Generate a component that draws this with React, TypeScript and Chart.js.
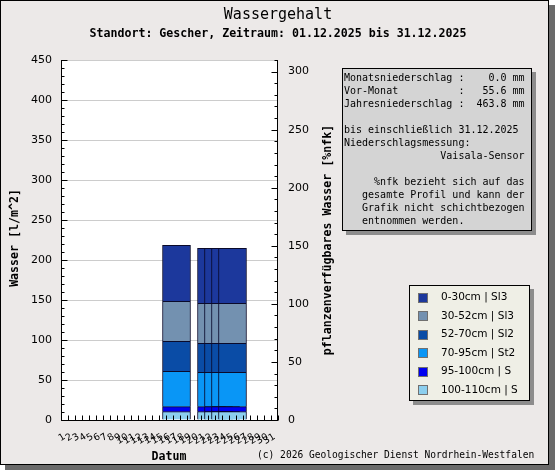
import React, { useEffect, useRef } from 'react';
import { Chart, registerables } from 'chart.js';

Chart.register(...registerables);

// ---- data ----
const dayLabels = ['1', '2', '3', '4', '5', '6', '7', '8', '9', '10', '11', '12', '13', '14', '15', '16',
  '17', '18', '19', '20', '21', '22', '23', '24', '25', '26', '27', '28', '29', '30', '31'];
const barDays = ['17', '22', '23', '24', '25'];
const layer0to30 = [70.0, 68.8, 68.8, 68.8, 68.8];
const layer30to52 = [50.0, 50.0, 50.0, 50.0, 50.0];
const layer52to70 = [37.5, 36.2, 36.2, 36.2, 36.2];
const layer70to95 = [44.1, 42.9, 42.9, 42.9, 42.9];
const layer95to100 = [6.3, 6.3, 6.3, 6.3, 6.3];
const layer100to110 = [10.4, 10.4, 10.4, 10.4, 10.4];
const seriesNames = ['0-30cm | Sl3', '30-52cm | Sl3', '52-70cm | Sl2', '70-95cm | St2', '95-100cm | S', '100-110cm | S'];
const seriesColors = ['#1c389c', '#7391b0', '#0a4ca6', '#0996f6', '#0000f0', '#8ccfee'];
const leftMax = 450;
const leftStep = 50;
const rightMax = 310;
const rightStep = 50;

const titleText = 'Wassergehalt';
const subtitleText = 'Standort: Gescher, Zeitraum: 01.12.2025 bis 31.12.2025';
const leftAxisTitle = 'Wasser [l/m^2]';
const rightAxisTitle = 'pflanzenverfügbares Wasser [%nfk]';
const xAxisTitle = 'Datum';
const copyrightText = '(c) 2026 Geologischer Dienst Nordrhein-Westfalen';
const infoLines = [
  'Monatsniederschlag :    0.0 mm',
  'Vor-Monat          :   55.6 mm',
  'Jahresniederschlag :  463.8 mm',
  '',
  'bis einschließlich 31.12.2025',
  'Niederschlagsmessung:',
  '                Vaisala-Sensor',
  '',
  '     %nfk bezieht sich auf das',
  '   gesamte Profil und kann der',
  '   Grafik nicht schichtbezogen',
  '   entnommen werden.',
];

const MONO = '"DejaVu Sans Mono", monospace';
const SANS = '"DejaVu Sans", sans-serif';

function fullSeries(vals: number[]) {
  return dayLabels.map((d) => {
    const i = barDays.indexOf(d);
    return i >= 0 ? vals[i] : null;
  });
}

const decorPlugin = {
  id: 'decor',
  beforeDraw(chart: any) {
    const ctx = chart.ctx;
    const ca = chart.chartArea;
    ctx.save();
    ctx.fillStyle = '#ffffff';
    ctx.fillRect(0, 0, 555, 470);
    // frame shadow
    ctx.fillStyle = '#6a6a6a';
    ctx.fillRect(549, 5, 6, 465);
    ctx.fillRect(5, 465, 550, 5);
    // frame
    ctx.fillStyle = '#ece9e8';
    ctx.fillRect(0, 0, 549, 465);
    ctx.strokeStyle = '#000';
    ctx.lineWidth = 1;
    ctx.strokeRect(0.5, 0.5, 548, 464);
    // plot area
    ctx.fillStyle = '#ffffff';
    ctx.fillRect(ca.left, ca.top, ca.right - ca.left, ca.bottom - ca.top);
    ctx.restore();
  },
  afterDatasetsDraw(chart: any) {
    const ctx = chart.ctx;
    const ca = chart.chartArea;
    const ys = chart.scales.y;
    const y2 = chart.scales.y2;
    const xs = chart.scales.x;
    ctx.save();
    ctx.strokeStyle = '#000';
    ctx.lineWidth = 1;
    const L = Math.round(ca.left) + 0.5;
    const R = Math.round(ca.right) - 0.5;
    const B = Math.round(ca.bottom) + 0.5;
    ctx.beginPath();
    // axis lines
    ctx.moveTo(L, ca.top);
    ctx.lineTo(L, B);
    ctx.lineTo(R + 0.5, B);
    ctx.moveTo(R, ca.top);
    ctx.lineTo(R, B);
    // left ticks
    for (let v = 0; v <= leftMax; v += 10) {
      const y = Math.round(ys.getPixelForValue(v)) + 0.5;
      const len = v % leftStep === 0 ? 6 : 3;
      ctx.moveTo(L, y);
      ctx.lineTo(L + len, y);
    }
    // right ticks
    for (let v = 0; v <= rightMax; v += 10) {
      const y = Math.round(y2.getPixelForValue(v)) + 0.5;
      const len = v % rightStep === 0 ? 6 : 3;
      ctx.moveTo(R, y);
      ctx.lineTo(R - len, y);
    }
    // bottom ticks at category boundaries
    const step = xs.getPixelForValue(1) - xs.getPixelForValue(0);
    const x0 = xs.getPixelForValue(0) - step / 2;
    for (let i = 0; i <= dayLabels.length; i++) {
      const x = Math.round(x0 + i * step) + 0.5;
      ctx.moveTo(x, B);
      ctx.lineTo(x, B - 5);
    }
    ctx.stroke();
    ctx.restore();
  },
  afterDraw(chart: any) {
    const ctx = chart.ctx;
    ctx.save();
    ctx.fillStyle = '#000';
    ctx.textBaseline = 'middle';
    // titles
    ctx.textAlign = 'center';
    ctx.font = `15px ${MONO}`;
    ctx.fillText(titleText, 278, 15);
    ctx.font = `bold 11.6px ${MONO}`;
    ctx.fillText(subtitleText, 278, 34);
    ctx.fillText(xAxisTitle, 169, 457);
    // rotated axis titles
    ctx.save();
    ctx.translate(15, 238);
    ctx.rotate(-Math.PI / 2);
    ctx.fillText(leftAxisTitle, 0, 0);
    ctx.restore();
    ctx.save();
    ctx.translate(328, 240);
    ctx.rotate(-Math.PI / 2);
    ctx.fillText(rightAxisTitle, 0, 0);
    ctx.restore();
    // copyright
    ctx.textAlign = 'left';
    ctx.font = `9.6px ${MONO}`;
    ctx.fillText(copyrightText, 257, 455);

    // info box
    ctx.fillStyle = '#8c8c8c';
    ctx.fillRect(346, 72, 190, 163);
    ctx.fillStyle = '#d4d4d4';
    ctx.fillRect(342, 68, 190, 163);
    ctx.strokeStyle = '#000';
    ctx.lineWidth = 1;
    ctx.strokeRect(342.5, 68.5, 189, 162);
    ctx.fillStyle = '#000';
    ctx.font = `10px ${MONO}`;
    ctx.textAlign = 'left';
    infoLines.forEach((line, k) => {
      if (line) ctx.fillText(line, 344, 78.5 + k * 13);
    });

    // legend
    ctx.fillStyle = '#8c8c8c';
    ctx.fillRect(413, 289, 121, 116);
    ctx.fillStyle = '#efefe6';
    ctx.fillRect(409, 285, 121, 116);
    ctx.strokeStyle = '#000';
    ctx.strokeRect(409.5, 285.5, 120, 115);
    ctx.font = `10.5px ${SANS}`;
    seriesNames.forEach((name, k) => {
      const cy = 297.5 + k * 18.5;
      ctx.fillStyle = seriesColors[k];
      ctx.fillRect(418, Math.round(cy) - 5, 10, 10);
      ctx.strokeStyle = '#707070';
      ctx.strokeRect(418.5, Math.round(cy) - 4.5, 9, 9);
      ctx.fillStyle = '#000';
      ctx.fillText(name, 441, cy);
    });
    ctx.restore();
  },
};

export default function App() {
  const ref = useRef<HTMLCanvasElement | null>(null);
  useEffect(() => {
    document.body.style.margin = '0';
    const canvas = ref.current;
    if (!canvas) return;
    const stackOrder = [5, 4, 3, 2, 1, 0];
    const layers = [layer0to30, layer30to52, layer52to70, layer70to95, layer95to100, layer100to110];
    const datasets = stackOrder.map((k) => ({
      label: seriesNames[k],
      data: fullSeries(layers[k]),
      backgroundColor: seriesColors[k],
      borderColor: '#0a0a2a',
      borderWidth: 1,
      barThickness: 28,
      stack: 's',
      yAxisID: 'y',
    }));
    const chart = new Chart(canvas, {
      type: 'bar',
      data: { labels: dayLabels, datasets },
      options: {
        animation: false,
        responsive: false,
        devicePixelRatio: 1,
        layout: { padding: { top: 60, left: 0, right: 0, bottom: 0 } },
        plugins: { legend: { display: false }, tooltip: { enabled: false }, title: { display: false } },
        scales: {
          x: {
            type: 'category',
            stacked: true,
            grid: { display: false },
            border: { display: false },
            ticks: {
              autoSkip: false,
              minRotation: 32,
              maxRotation: 32,
              padding: 3,
              color: '#000',
              font: { family: 'DejaVu Sans', size: 9.5 },
            },
            afterFit: (s: any) => { s.height = 50; },
          },
          y: {
            position: 'left',
            stacked: true,
            min: 0,
            max: leftMax,
            grid: { color: '#cccccc', drawTicks: false, lineWidth: 1 },
            border: { display: false },
            ticks: { stepSize: leftStep, padding: 9, color: '#000', font: { family: 'DejaVu Sans', size: 11 } },
            afterFit: (s: any) => { s.width = 61; },
          },
          y2: {
            position: 'right',
            min: 0,
            max: rightMax,
            grid: { display: false, drawTicks: false },
            border: { display: false },
            ticks: { stepSize: rightStep, includeBounds: false, padding: 10, color: '#000', font: { family: 'DejaVu Sans', size: 11 } },
            afterFit: (s: any) => { s.width = 555 - 278; },
          },
        },
      },
      plugins: [decorPlugin],
    } as any);
    return () => chart.destroy();
  }, []);
  return <canvas ref={ref} width={555} height={470} style={{ display: 'block' }} />;
}
